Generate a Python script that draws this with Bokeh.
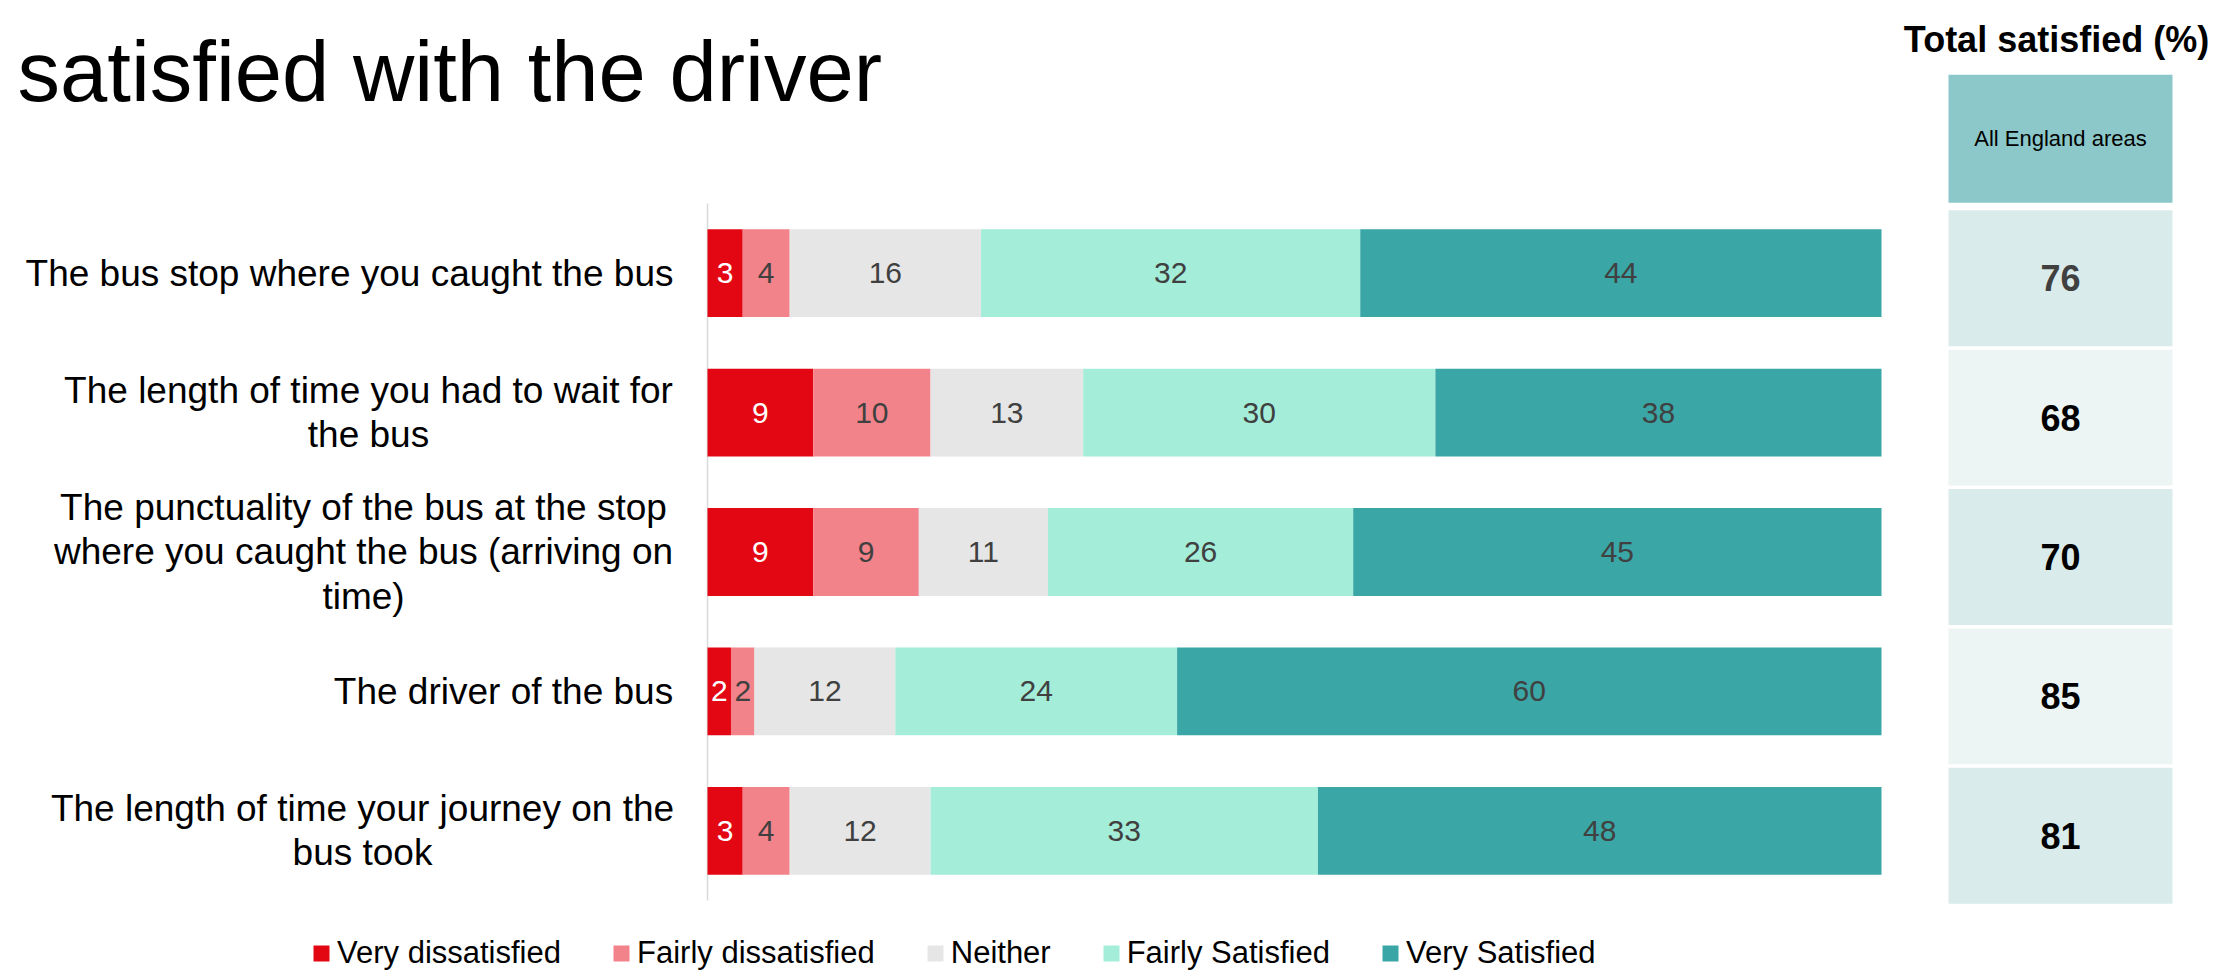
from bokeh.plotting import figure
from bokeh.models import ColumnDataSource, Range1d, Label, Legend, LegendItem
from bokeh.embed import file_html
from bokeh.resources import INLINE
from bokeh.core.properties import value

# ---------------- data ----------------
questions = [
    "The bus stop where you caught the bus",
    "The length of time you had to wait for the bus",
    "The punctuality of the bus at the stop where you caught the bus (arriving on time)",
    "The driver of the bus",
    "The length of time your journey on the bus took",
]
question_labels = [
    "The bus stop where you caught the bus",
    "The length of time you had to wait for\nthe bus",
    "The punctuality of the bus at the stop\nwhere you caught the bus (arriving on\ntime)",
    "The driver of the bus",
    "The length of time your journey on the\nbus took",
]
categories = ["Very dissatisfied", "Fairly dissatisfied", "Neither", "Fairly Satisfied", "Very Satisfied"]
very_dissatisfied = [3.0, 9, 9, 2, 3]
fairly_dissatisfied = [4.0, 10, 9, 2, 4]
neither = [16.3, 13, 11, 12, 12]
fairly_satisfied = [32.3, 30, 26, 24, 33]
very_satisfied = [44.4, 38, 45, 60, 48]
series = [very_dissatisfied, fairly_dissatisfied, neither, fairly_satisfied, very_satisfied]

table_title = "Total satisfied (%)"
table_header = "All England areas"
total_satisfied = [76, 68, 70, 85, 81]

title_text = "satisfied with the driver"

# ---------------- styles / layout ----------------
FONT = "Liberation Sans"
W, H = 2239, 972
colors = ["#E30613", "#F2838A", "#E6E6E6", "#A3EDD9", "#3AA6A6"]
label_colors = ["#FFFFFF", "#404040", "#404040", "#404040", "#404040"]
row_fills = ["#D9EBEA", "#ECF5F4", "#D9EBEA", "#ECF5F4", "#D9EBEA"]
total_colors = ["#404040", "#000000", "#000000", "#000000", "#000000"]
label_centers = [349, 368, 363, 503, 362]   # pixel x of each category label block

# bar area: x 0..100 -> pixels 707..1881 ; rows band 139.4 px, first band top at 203 px
px_per_pct = (1881 - 707) / 100.0
band = (900 - 203) / len(questions)
x_start = -707 / px_per_pct
x_end = (W - 707) / px_per_pct
y_top = -0.5 - 203 / band
y_bottom = len(questions) - 0.5 + (H - 900) / band

p = figure(width=W, height=H,
           x_range=Range1d(x_start, x_end), y_range=Range1d(y_bottom, y_top),
           output_backend="svg", toolbar_location=None,
           min_border=0, min_border_left=0, min_border_right=0,
           min_border_top=0, min_border_bottom=0)
p.title.visible = False
p.axis.visible = False
p.xgrid.visible = False
p.ygrid.visible = False
p.outline_line_color = None
p.background_fill_color = "white"
p.border_fill_color = "white"

# extra ranges: pixel-like x for text blocks, table column and slightly shifted table rows
p.extra_x_ranges = {
    "px": Range1d(0, W),
    "table": Range1d(-1948 / 224.0, (W - 1948) / 224.0),
}
shift = 5 / band
p.extra_y_ranges = {"table_y": Range1d(y_bottom - shift, y_top - shift)}

pos = list(range(len(questions)))

# axis line at 0 %
p.segment(x0=[0], x1=[0], y0=[-0.5], y1=[len(questions) - 0.5],
          line_color="#D9D9D9", line_width=1.5)

data = dict(pos=pos)
for c, s in zip(categories, series):
    data[c] = s
src = ColumnDataSource(data)
renderers = p.hbar_stack(categories, y="pos", height=0.63, source=src,
                         fill_color=colors, line_color=None)

# segment value labels
lx, ly, lt, lc = [], [], [], []
for i in pos:
    cum = 0
    for j, s in enumerate(series):
        v = s[i]
        lx.append(cum + v / 2)
        ly.append(i)
        lt.append(f"{v:.0f}")
        lc.append(label_colors[j])
        cum += v
p.text(x="x", y="y", text="t", text_color="c",
       source=ColumnDataSource(dict(x=lx, y=ly, t=lt, c=lc)),
       text_align="center", text_baseline="middle",
       text_font=value(FONT), text_font_size="30px")

# category labels
p.text(x="lx", y="pos", text="label", x_range_name="px",
       source=ColumnDataSource(dict(pos=pos, label=question_labels, lx=label_centers)),
       text_align="center", text_baseline="middle",
       text_font=value(FONT), text_font_size="37px", text_line_height=1.08,
       text_color="#000000")

# title (second line)
p.add_layout(Label(x=17, y=H - 71, x_units="screen", y_units="screen",
                   text=title_text, text_font=FONT, text_font_size="85px",
                   text_align="left", text_baseline="alphabetic", text_color="#000000"))

# ---------------- table ----------------
p.add_layout(Label(x=2056, y=H - 39, x_units="screen", y_units="screen", text=table_title,
                   text_font=FONT, text_font_size="36px", text_font_style="bold",
                   text_align="center", text_baseline="alphabetic", text_color="#000000"))
p.hbar(y=[-1], left=0, right=1, height=128 / band, fill_color="#8CC8C9", line_color=None,
       x_range_name="table", y_range_name="table_y")
p.text(x=[0.5], y=[-1], text=[table_header], x_range_name="table", y_range_name="table_y",
       text_align="center", text_baseline="middle",
       text_font=value(FONT), text_font_size="22px", text_color="#000000")

tsrc = ColumnDataSource(dict(pos=pos, total=[str(t) for t in total_satisfied],
                             fill=row_fills, tc=total_colors))
p.hbar(y="pos", left=0, right=1, height=0.975, fill_color="fill", line_color=None,
       source=tsrc, x_range_name="table", y_range_name="table_y")
p.text(x=0.5, y="pos", text="total", text_color="tc", source=tsrc,
       x_range_name="table", y_range_name="table_y",
       text_align="center", text_baseline="middle",
       text_font=value(FONT), text_font_size="36px", text_font_style="bold")

# ---------------- legend ----------------
legend = Legend(items=[LegendItem(label=c, renderers=[r]) for c, r in zip(categories, renderers)],
                orientation="horizontal", location=(311, 1),
                glyph_width=20, glyph_height=20, label_standoff=6, spacing=50,
                padding=0, margin=0, border_line_color=None, background_fill_alpha=0,
                label_text_font=FONT, label_text_font_size="31px", label_text_color="#000000")
p.add_layout(legend)

open("out.html", "w").write(file_html(p, INLINE))
